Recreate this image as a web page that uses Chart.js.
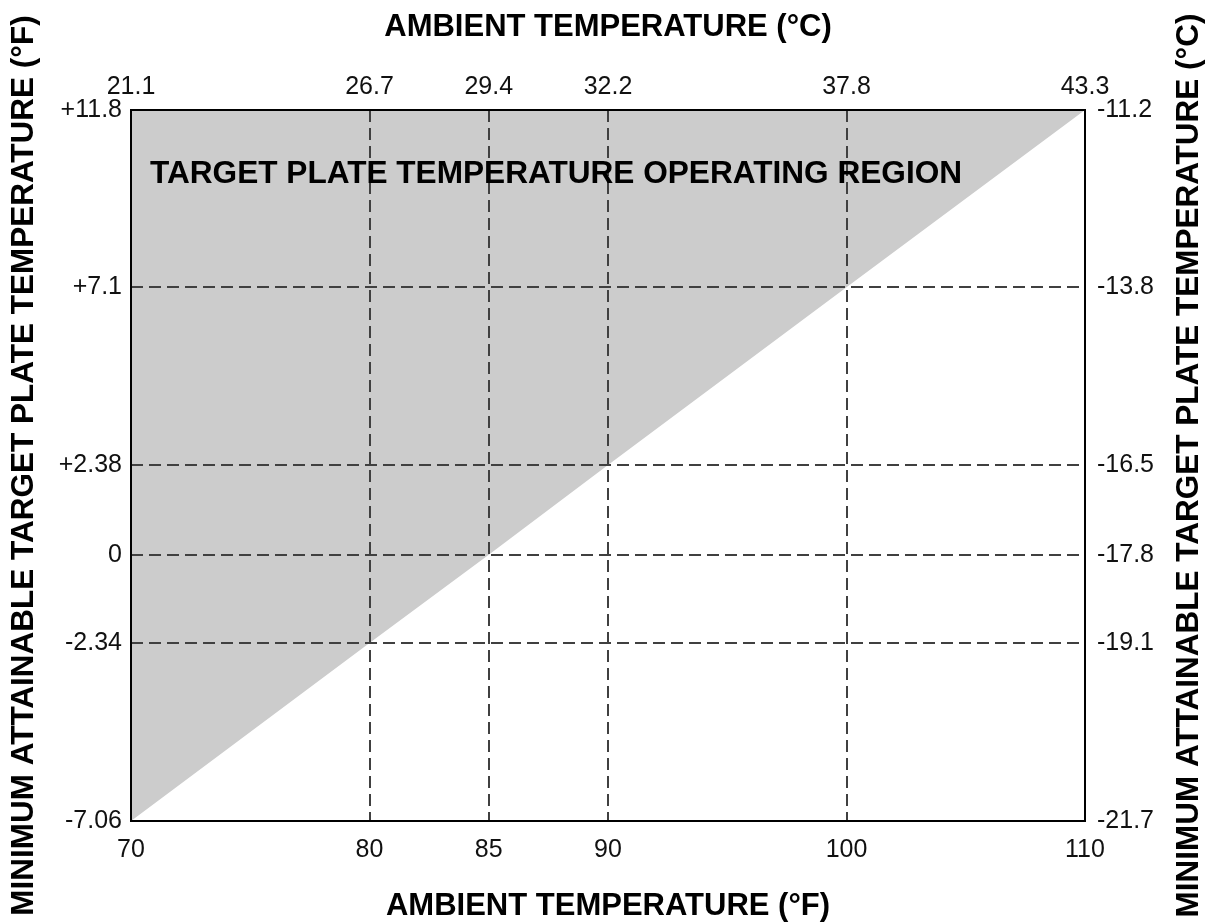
<!DOCTYPE html>
<html>
<head>
<meta charset="utf-8">
<script src="https://cdn.jsdelivr.net/npm/chart.js@4/dist/chart.umd.min.js"></script>
<style>
  body { margin: 0; background: #fff; }
  canvas { display: block; }
</style>
</head>
<body>
<canvas id="plateChart" width="1207" height="922"></canvas>
<script>
// ---- data ----
const ambientF = [70, 80, 85, 90, 100, 110];                 // boundary points, degF
const plateF = [-7.06, -2.34, 0, 2.38, 7.1, 11.8];          // min attainable plate temp, degF

const xTicksF = [70, 80, 85, 90, 100, 110];
const xLabelsC = ["21.1", "26.7", "29.4", "32.2", "37.8", "43.3"];
const yTicksF = [-7.06, -2.34, 0, 2.38, 7.1, 11.8];
const yLabelsF = ["-7.06", "-2.34", "0", "+2.38", "+7.1", "+11.8"];
const yLabelsC = ["-21.7", "-19.1", "-17.8", "-16.5", "-13.8", "-11.2"];

const FONT = "'Liberation Sans', Arial, Helvetica, sans-serif";
const tickFont = { family: FONT, size: 25 };
const titleFont = { family: FONT, size: 31, weight: "bold", lineHeight: 1 };
const sideTitleFont = { family: FONT, size: 31.5, weight: "bold", lineHeight: 1 };

function fixedTicks(values) {
    return scale => { scale.ticks = values.map(v => ({ value: v })); };
}

// frame, right-hand title (reads bottom-to-top) and the label inside the plot
const textPlugin = {
    id: "plateText",
    afterDraw(chart) {
        const ctx = chart.ctx;
        const area = chart.chartArea;
        ctx.save();
        ctx.strokeStyle = "#000";
        ctx.lineWidth = 2;
        ctx.strokeRect(area.left, area.top, area.right - area.left, area.bottom - area.top);

        ctx.fillStyle = "#000";
        ctx.font = "bold 31.6px " + FONT;
        ctx.textBaseline = "middle";
        ctx.textAlign = "left";
        ctx.fillText("TARGET PLATE TEMPERATURE OPERATING REGION", 150, 174);

        ctx.font = "bold 31.5px " + FONT;
        ctx.translate(1189, (area.top + area.bottom) / 2);
        ctx.rotate(-Math.PI / 2);
        ctx.textAlign = "center";
        ctx.fillText("MINIMUM ATTAINABLE TARGET PLATE TEMPERATURE (\u00B0C)", 0, 0);
        ctx.restore();
    }
};

const ctx = document.getElementById("plateChart").getContext("2d");

new Chart(ctx, {
    type: "line",
    data: {
        datasets: [{
            data: ambientF.map((x, i) => ({ x, y: plateF[i] })),
            fill: "end",
            backgroundColor: "#cccccc",
            borderWidth: 0,
            pointRadius: 0,
            tension: 0
        }]
    },
    options: {
        responsive: false,
        devicePixelRatio: 1,
        animation: false,
        layout: { padding: 0 },
        plugins: { legend: { display: false }, tooltip: { enabled: false } },
        scales: {
            x: {
                type: "linear", position: "bottom", min: 70, max: 110,
                afterBuildTicks: fixedTicks(xTicksF),
                afterFit: s => { s.height = 101; },
                grid: { color: "#404040", lineWidth: 2, drawTicks: false, z: 1 },
                border: { display: false, dash: [12, 6] },
                ticks: { font: tickFont, color: "#111", padding: 14, autoSkip: false, maxRotation: 0,
                         callback: v => String(v) },
                title: { display: true, text: "AMBIENT TEMPERATURE (\u00B0F)", font: titleFont, color: "#000",
                         padding: { top: 0, bottom: 0 } }
            },
            x2: {
                type: "linear", position: "top", min: 70, max: 110,
                afterBuildTicks: fixedTicks(xTicksF),
                afterFit: s => { s.height = 110; },
                grid: { display: false, drawTicks: false },
                border: { display: false },
                ticks: { font: tickFont, color: "#111", padding: 8, autoSkip: false, maxRotation: 0,
                         callback: (v, i) => xLabelsC[i] },
                title: { display: true, text: "AMBIENT TEMPERATURE (\u00B0C)", font: titleFont, color: "#000",
                         padding: { top: 12, bottom: 0 } }
            },
            y: {
                type: "linear", position: "left", min: -7.06, max: 11.8,
                afterBuildTicks: fixedTicks(yTicksF),
                afterFit: s => { s.width = 131; },
                grid: { color: "#404040", lineWidth: 2, drawTicks: false, z: 1 },
                border: { display: false, dash: [12, 6] },
                ticks: { font: tickFont, color: "#111", padding: 9, autoSkip: false,
                         callback: (v, i) => yLabelsF[i] },
                title: { display: true, text: "MINIMUM ATTAINABLE TARGET PLATE TEMPERATURE (\u00B0F)",
                         font: sideTitleFont, color: "#000", padding: { top: 9, bottom: 0 } }
            },
            y2: {
                type: "linear", position: "right", min: -7.06, max: 11.8,
                afterBuildTicks: fixedTicks(yTicksF),
                afterFit: s => { s.width = 122; },
                grid: { display: false, drawTicks: false },
                border: { display: false },
                ticks: { font: tickFont, color: "#111", padding: 12, autoSkip: false,
                         callback: (v, i) => yLabelsC[i] }
            }
        }
    },
    plugins: [textPlugin]
});
</script>
</body>
</html>
